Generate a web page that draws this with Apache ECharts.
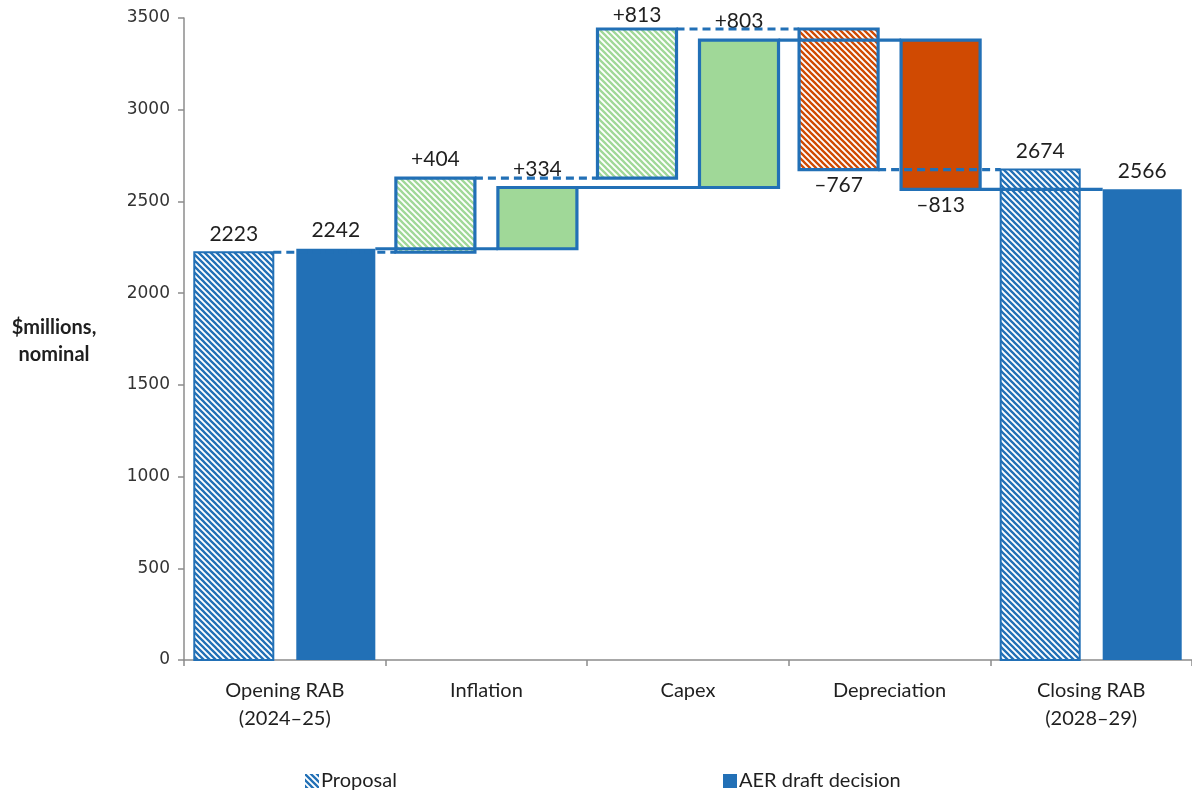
<!DOCTYPE html>
<html>
<head>
<meta charset="utf-8">
<script src="https://cdn.jsdelivr.net/npm/echarts@6/dist/echarts.min.js"></script>
<style>
  html, body { margin: 0; padding: 0; background: #fff; }
  #chart { width: 1192px; height: 791px; }
</style>
</head>
<body>
<div id="chart"></div>
<script>
// RAB roll-forward: proposal vs AER draft decision ($m nominal)
const categories = ['Opening RAB\n(2024\u201325)', 'Inflation', 'Capex', 'Depreciation', 'Closing RAB\n(2028\u201329)'];
const proposal = [2223, 404, 813, -767, 2674];
const draftDecision = [2242, 334, 803, -813, 2566];
const yAxisMin = 0;
const yAxisMax = 3500;
const yAxisStep = 500;

const BLUE = '#2270B6';
const GREEN = '#A0D898';
const RED = '#D04A02';
const TEXT = '#1f1f1f';
const AXIS = '#8c8c8c';

// diagonal hatch tile (stripes running top-left to bottom-right)
function hatch(color) {
  const c = document.createElement('canvas');
  c.width = 6; c.height = 6;
  const g = c.getContext('2d');
  g.fillStyle = '#ffffff';
  g.fillRect(0, 0, 6, 6);
  g.strokeStyle = color;
  g.lineWidth = 2.3;
  g.beginPath();
  for (let k = -1; k <= 1; k++) {
    g.moveTo(k * 6 - 1, -1);
    g.lineTo(k * 6 + 7, 7);
  }
  g.stroke();
  return { image: c, repeat: 'repeat' };
}

// turn values into floating steps: first and last are totals from zero
function steps(values) {
  let run = 0;
  const last = values.length - 1;
  return values.map((v, i) => {
    if (i === 0 || i === last) {
      run = v;
      return [i, 0, v, v, v, 1];
    }
    const base = run;
    run += v;
    return [i, Math.min(base, run), Math.max(base, run), run, v, 0];
  });
}

const proposalSteps = steps(proposal);
const decisionSteps = steps(draftDecision);

const BAR_FRAC = 0.392;           // bar width as share of category band
const OFFSETS = [-0.253, 0.253];  // bar centre offset within band, per series

function barX(api, idx, s) {
  const band = api.size([1, 0])[0];
  const cx = api.coord([idx, 0])[0] + OFFSETS[s] * band;
  const w = band * BAR_FRAC;
  return { cx, left: cx - w / 2, right: cx + w / 2, w };
}

function fmt(v, total) {
  if (total) return String(v);
  return (v >= 0 ? '+' : '\u2013') + Math.abs(v);
}

function barRenderer(s) {
  return function (params, api) {
    const idx = api.value(0);
    const low = api.value(1);
    const high = api.value(2);
    const v = api.value(4);
    const total = api.value(5) === 1;
    const b = barX(api, idx, s);
    const yLow = api.coord([idx, low])[1];
    const yHigh = api.coord([idx, high])[1];

    let fill;
    if (total) fill = s === 0 ? hatch(BLUE) : BLUE;
    else if (v >= 0) fill = s === 0 ? hatch(GREEN) : GREEN;
    else fill = s === 0 ? hatch(RED) : RED;

    const rect = {
      type: 'rect',
      shape: { x: b.left, y: yHigh, width: b.w, height: yLow - yHigh },
      style: {
        fill: fill,
        stroke: total && s === 1 ? null : BLUE,
        lineWidth: total ? 2 : 3.2
      }
    };
    const labelFont = '21px Lato, "Open Sans", sans-serif';
    const label = v >= 0 || total
      ? { type: 'text', style: { text: fmt(v, total), x: b.cx, y: Math.max(yHigh - 8, 26), align: 'center', verticalAlign: 'bottom', font: labelFont, fill: TEXT } }
      : { type: 'text', style: { text: fmt(v, total), x: b.cx, y: yLow + 5, align: 'center', verticalAlign: 'top', font: labelFont, fill: TEXT } };
    return { type: 'group', children: [rect, label] };
  };
}

// connector lines: from each bar's end level to the next bar of the same series
const connectorData = [];
[proposalSteps, decisionSteps].forEach((st, s) => {
  st.slice(0, -1).forEach(d => connectorData.push([d[0], d[3], s]));
});

function connectorRenderer(params, api) {
  const idx = api.value(0);
  const level = api.value(1);
  const s = api.value(2);
  const a = barX(api, idx, s);
  const b = barX(api, idx + 1, s);
  const y = api.coord([idx, level])[1];
  return {
    type: 'line',
    shape: { x1: a.right, y1: y, x2: b.left, y2: y },
    style: { stroke: BLUE, lineWidth: 3.2, lineDash: s === 0 ? [8, 5] : null }
  };
}

const chart = echarts.init(document.getElementById('chart'), null, { renderer: 'canvas' });

const legendText = { color: TEXT, fontSize: 20, fontFamily: 'Lato, "Open Sans", sans-serif', padding: [0, 0, 0, -3] };

chart.setOption({
  animation: false,
  backgroundColor: '#ffffff',
  grid: { left: 184, top: 18, width: 1012, bottom: 131 },
  xAxis: {
    type: 'category',
    data: categories,
    axisLine: { lineStyle: { color: AXIS, width: 1.5 } },
    axisTick: { show: true, length: 6, lineStyle: { color: AXIS, width: 1.5 } },
    axisLabel: { color: TEXT, fontSize: 20, fontFamily: 'Lato, "Open Sans", sans-serif', lineHeight: 28, margin: 17 }
  },
  yAxis: {
    type: 'value',
    min: yAxisMin,
    max: yAxisMax,
    interval: yAxisStep,
    splitLine: { show: false },
    axisLine: { show: true, lineStyle: { color: AXIS, width: 1.5 } },
    axisTick: { show: true, length: 6, lineStyle: { color: AXIS, width: 1.5 } },
    axisLabel: {
      color: '#333333', fontSize: 17, fontFamily: 'DejaVu Sans', margin: 14,
      formatter: v => String(v)
    }
  },
  legend: [
    { data: ['Proposal'], left: 300, top: 766, itemWidth: 14, itemHeight: 14, icon: 'rect', textStyle: legendText },
    { data: ['AER draft decision'], left: 718, top: 766, itemWidth: 14, itemHeight: 14, icon: 'rect', textStyle: legendText }
  ],
  graphic: [
    {
      type: 'text', x: 54, y: 314,
      style: {
        text: '$millions,\nnominal', align: 'center', fill: TEXT,
        font: 'bold 20px Lato, "Open Sans", sans-serif', lineHeight: 27
      }
    }
  ],
  series: [
    {
      name: 'Proposal', type: 'custom', renderItem: barRenderer(0),
      itemStyle: { color: hatch(BLUE) },
      encode: { x: 0, y: [1, 2] }, data: proposalSteps, z: 2
    },
    {
      name: 'AER draft decision', type: 'custom', renderItem: barRenderer(1),
      itemStyle: { color: BLUE },
      encode: { x: 0, y: [1, 2] }, data: decisionSteps, z: 3
    },
    {
      name: 'connectors', type: 'custom', renderItem: connectorRenderer,
      encode: { x: 0, y: 1 }, data: connectorData, z: 4, silent: true
    }
  ]
});
</script>
</body>
</html>
